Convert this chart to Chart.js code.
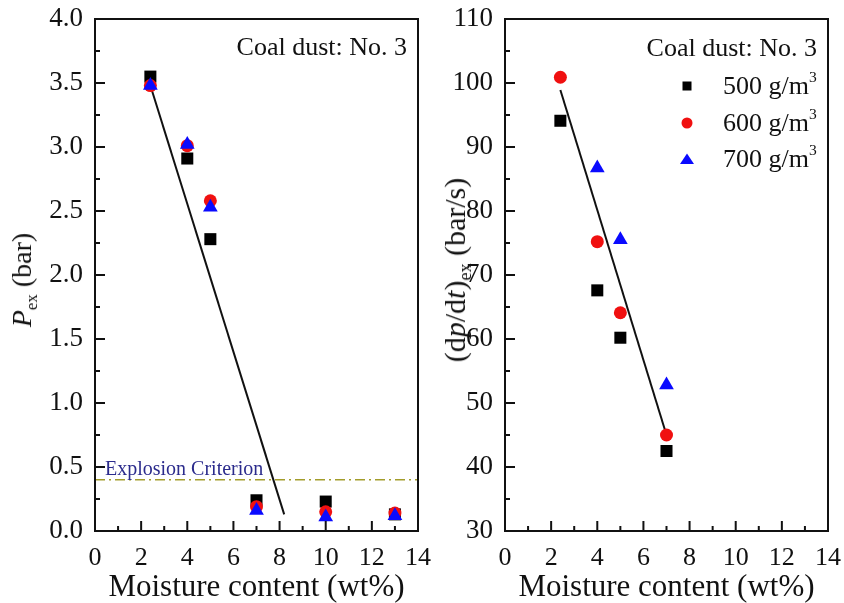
<!DOCTYPE html>
<html>
<head>
<meta charset="utf-8">
<script src="https://cdn.jsdelivr.net/npm/chart.js@4.4.1/dist/chart.umd.min.js"></script>
<style>
body { margin: 0; background: #fff; font-family: "Liberation Serif", "Times New Roman", serif; color: #111; }
#wrap { position: relative; width: 844px; height: 603px; overflow: hidden; }
canvas { position: absolute; top: 0; }
#pex-chart { left: 0; }
#rate-chart { left: 422px; }
.note { position: absolute; white-space: nowrap; line-height: 1; }
.ytitle { position: absolute; white-space: nowrap; line-height: 1;
  transform: translate(-50%, -50%) rotate(-90deg); }
sup, sub { font-size: 0.6em; position: relative; vertical-align: baseline; }
sup { top: -0.75em; }
sub { top: 0.35em; }
.mark { position: absolute; width: 18px; height: 18px; }
</style>
</head>
<body>
<div id="wrap">
  <canvas id="pex-chart" width="440" height="603"></canvas>
  <canvas id="rate-chart" width="422" height="603"></canvas>

  <div class="ytitle" style="left:22px; top:280px; font-size:28px;"><i>P</i><sub>ex</sub> (bar)</div>
  <div class="ytitle" style="left:455px; top:270px; font-size:30px;">(d<i>p</i>/d<i>t</i>)<sub>ex</sub> (bar/s)</div>

  <div class="note" style="right:437px; top:34px; font-size:26px;">Coal dust: No. 3</div>
  <div class="note" style="right:27px; top:35px; font-size:26px;">Coal dust: No. 3</div>
  <div class="note" style="left:105px; top:458px; font-size:20px; color:#2b2b8c;">Explosion Criterion</div>
  <div id="legend"></div>
</div>

<script>
// moisture content (wt%)
const moisture = [2.4, 4, 5, 7, 10, 13];
const moistureRate = [2.4, 4, 5, 7];

// P_ex (bar)
const pex500 = [3.55, 2.91, 2.28, 0.24, 0.23, 0.13];
const pex600 = [3.48, 3.01, 2.58, 0.19, 0.15, 0.14];
const pex700 = [3.48, 3.02, 2.53, 0.16, 0.11, 0.12];

// (dp/dt)_ex (bar/s)
const rate500 = [94.1, 67.6, 60.2, 42.5];
const rate600 = [100.9, 75.2, 64.1, 45.0];
const rate700 = [110.5, 86.7, 75.5, 52.8];

// linear fits
const fitPexX = [2.4, 8.2];
const fitPexY = [3.48, 0.13];
const fitRateX = [2.4, 7.0];
const fitRateY = [98.9, 45.0];

// explosion criterion
const criterionX = [0, 14];
const criterion = 0.4;

const densities = ["500", "600", "700"];
const seriesColors = ["#000000", "#f01010", "#0a0aff"];
const seriesShapes = ["rect", "circle", "triangle"];
const seriesRadius = [8.5, 6.5, 8.5];

const serif = "'Liberation Serif', 'Times New Roman', serif";

function pts(xs, ys) {
    return xs.map((x, i) => ({ x: x, y: ys[i] }));
}

function markerSet(i, xs, ys) {
    return {
        label: densities[i] + " g/m³",
        data: pts(xs, ys),
        pointStyle: seriesShapes[i],
        pointRadius: seriesRadius[i],
        pointBackgroundColor: seriesColors[i],
        pointBorderWidth: 0,
        showLine: false,
        order: 3 - i,
        clip: 0
    };
}

// inward ticks + full box
const framePlugin = {
    id: "frame",
    afterDatasetsDraw(chart) {
        const { ctx, chartArea: a, scales } = chart;
        const xs = scales.x, ys = scales.y;
        ctx.save();
        ctx.strokeStyle = "#111";
        ctx.lineWidth = 2;
        ctx.beginPath();
        const xt = xs.ticks.map(t => t.value);
        for (let i = 0; i < xt.length; i++) {
            const px = xs.getPixelForValue(xt[i]);
            if (i > 0 && i < xt.length - 1) {
                ctx.moveTo(px, a.bottom); ctx.lineTo(px, a.bottom - 10);
            }
            if (i < xt.length - 1) {
                const mx = xs.getPixelForValue((xt[i] + xt[i + 1]) / 2);
                ctx.moveTo(mx, a.bottom); ctx.lineTo(mx, a.bottom - 5);
            }
        }
        const yt = ys.ticks.map(t => t.value);
        for (let i = 0; i < yt.length; i++) {
            const py = ys.getPixelForValue(yt[i]);
            if (i > 0 && i < yt.length - 1) {
                ctx.moveTo(a.left, py); ctx.lineTo(a.left + 10, py);
            }
            if (i < yt.length - 1) {
                const my = ys.getPixelForValue((yt[i] + yt[i + 1]) / 2);
                ctx.moveTo(a.left, my); ctx.lineTo(a.left + 5, my);
            }
        }
        ctx.stroke();
        ctx.strokeRect(a.left, a.top, a.right - a.left, a.bottom - a.top);
        ctx.restore();
    }
};

function makeScales(yMin, yMax, yStep, yDigits, yWidth) {
    return {
        x: {
            type: "linear", min: 0, max: 14,
            grid: { display: false, drawTicks: false },
            border: { display: false },
            ticks: { stepSize: 2, padding: 12, color: "#111", font: { family: serif, size: 26 } },
            title: {
                display: true, text: "Moisture content (wt%)", color: "#111",
                font: { family: serif, size: 31, lineHeight: 1 }, padding: 0
            },
            afterFit: s => {
                s.height = 72;
                s.paddingLeft = 0; s.paddingRight = 0;
            }
        },
        y: {
            type: "linear", min: yMin, max: yMax,
            grid: { display: false, drawTicks: false },
            border: { display: false },
            ticks: {
                stepSize: yStep, padding: 12, color: "#111",
                font: { family: serif, size: 27 },
                callback: v => v.toFixed(yDigits)
            },
            afterFit: s => {
                s.width = yWidth;
                s.paddingTop = 0; s.paddingBottom = 0;
            }
        }
    };
}

const baseOptions = {
    responsive: false,
    animation: false,
    plugins: { legend: { display: false }, tooltip: { enabled: false } }
};

new Chart(document.getElementById("pex-chart"), {
    type: "scatter",
    data: {
        datasets: [
            markerSet(0, moisture, pex500),
            markerSet(1, moisture, pex600),
            markerSet(2, moisture, pex700),
            {
                label: "fit", data: pts(fitPexX, fitPexY), showLine: true,
                borderColor: "#111", borderWidth: 2, pointRadius: 0, order: 4
            },
            {
                label: "Explosion Criterion", data: pts(criterionX, criterionX.map(() => criterion)),
                showLine: true, borderColor: "#a39d2c", borderWidth: 1.5,
                borderDash: [10, 4, 2, 4], pointRadius: 0, order: 5
            }
        ]
    },
    options: Object.assign({}, baseOptions, {
        layout: { padding: { top: 19, right: 22, left: 0, bottom: 0 } },
        scales: makeScales(0, 4, 0.5, 1, 95)
    }),
    plugins: [framePlugin]
});

new Chart(document.getElementById("rate-chart"), {
    type: "scatter",
    data: {
        datasets: [
            markerSet(0, moistureRate, rate500),
            markerSet(1, moistureRate, rate600),
            markerSet(2, moistureRate, rate700),
            {
                label: "fit", data: pts(fitRateX, fitRateY), showLine: true,
                borderColor: "#111", borderWidth: 2, pointRadius: 0, order: 4
            }
        ]
    },
    options: Object.assign({}, baseOptions, {
        layout: { padding: { top: 19, right: 16, left: 0, bottom: 0 } },
        scales: makeScales(30, 110, 10, 0, 83)
    }),
    plugins: [framePlugin]
});

// legend for the right panel
const legendEl = document.getElementById("legend");
const legendRows = [95, 132, 168];
densities.forEach((d, i) => {
    const cy = legendRows[i] - 9;
    let shape;
    if (seriesShapes[i] === "rect") {
        shape = `<rect x="4.5" y="4.5" width="9" height="9" fill="${seriesColors[i]}"/>`;
    } else if (seriesShapes[i] === "circle") {
        shape = `<circle cx="9" cy="9" r="5.5" fill="${seriesColors[i]}"/>`;
    } else {
        shape = `<polygon points="9,3.5 16,14 2,14" fill="${seriesColors[i]}"/>`;
    }
    legendEl.insertAdjacentHTML("beforeend",
        `<svg class="mark" style="left:678px; top:${cy - 9}px;" viewBox="0 0 18 18">${shape}</svg>` +
        `<div class="note" style="left:723px; top:${legendRows[i] - 22}px; font-size:26px;">${d} g/m<sup>3</sup></div>`);
});
</script>
</body>
</html>
